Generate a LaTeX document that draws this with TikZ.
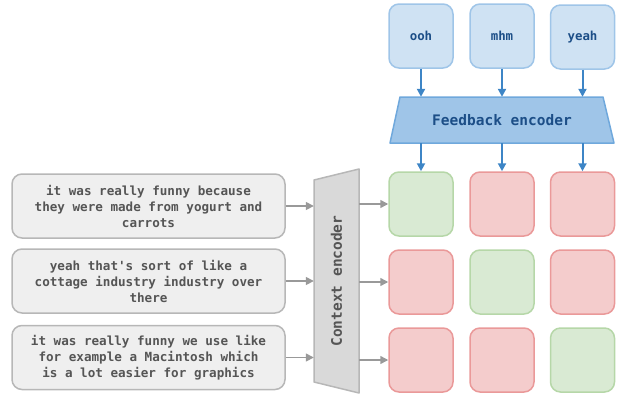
\documentclass[tikz,border=0pt]{standalone}
\usepackage{fontspec}
\setmonofont{DejaVu Sans Mono}
\usepackage{tikz}
\usetikzlibrary{calc,arrows.meta,positioning}

\definecolor{fbfill}{HTML}{CFE2F3}
\definecolor{fbline}{HTML}{9FC5E8}
\definecolor{encfill}{HTML}{9FC5E8}
\definecolor{encline}{HTML}{6FA8DC}
\definecolor{bluetext}{HTML}{1C4E87}
\definecolor{bluearrow}{HTML}{3D85C6}
\definecolor{okfill}{HTML}{D9EAD3}
\definecolor{okline}{HTML}{B6D7A8}
\definecolor{nofill}{HTML}{F4CCCC}
\definecolor{noline}{HTML}{EA9999}
\definecolor{ctxfill}{HTML}{D9D9D9}
\definecolor{ctxline}{HTML}{B7B7B7}
\definecolor{uttfill}{HTML}{EFEFEF}
\definecolor{utttext}{HTML}{555555}
\definecolor{grayarrow}{HTML}{999999}

\tikzset{
  utt/.style={draw=ctxline,fill=uttfill,line width=1.5pt,rounded corners=10pt,
    minimum width=273pt,minimum height=64pt,inner sep=0pt,align=center,text=utttext,
    font=\fontsize{12.6}{16}\selectfont\ttfamily\bfseries},
  fb/.style={draw=fbline,fill=fbfill,line width=1.5pt,rounded corners=10pt,
    minimum width=64pt,minimum height=64pt,inner sep=0pt,text=bluetext,
    font=\fontsize{12.4}{15}\selectfont\ttfamily\bfseries},
  cell/.style={line width=1.5pt,rounded corners=10pt,minimum width=64pt,minimum height=64pt,inner sep=0pt},
  ok/.style={cell,draw=okline,fill=okfill},
  no/.style={cell,draw=noline,fill=nofill},
  enclabel/.style={inner sep=0pt,font=\fontsize{14.5}{16}\selectfont\ttfamily\bfseries},
  garrow/.style={draw=grayarrow,line width=1.5pt,-{Triangle[length=8pt,width=8pt]}},
  barrow/.style={draw=bluearrow,line width=2pt,-{Triangle[length=8pt,width=8pt]}}
}

\begin{document}
\begin{tikzpicture}[x=1pt,y=-1pt]
        \useasboundingbox (0,0) rectangle (623,394);

        % feedback tokens
        \node[fb] (ooh) at (421,36) {ooh};
        \node[fb] (mhm) at (502,36) {mhm};
        \node[fb] (yeah) at (582.5,37) {yeah};

        \draw[encline,fill=encfill,line width=1.5pt,line join=round] (390,143) -- (400,97) -- (603,97) -- (614,143) -- cycle;
        \node[enclabel,text=bluetext,minimum width=224pt,minimum height=46pt] (fenc) at (502,120) {Feedback encoder};

        % context utterances
        \node[utt] (u1) at (148.5,206) {it was really funny because\\they were made from yogurt and\\carrots};
        \node[utt] (u2) at (148.5,281) {yeah that's sort of like a\\cottage industry industry over\\there};
        \node[utt] (u3) at (148.5,357.5) {it was really funny we use like\\for example a Macintosh which\\is a lot easier for graphics};

        \draw[ctxline,fill=ctxfill,line width=1.5pt,line join=round] (314,180) -- (359,169) -- (359,393) -- (314,382) -- cycle;
        \node[enclabel,text=utttext,rotate=90,minimum width=224pt,minimum height=45pt] (cenc) at (336.5,281) {Context encoder};

        % score grid
        \foreach \r/\y in {1/204,2/282,3/360} {
          \foreach \c/\x in {1/421,2/502,3/582.5} {
            \ifnum\r=\c
              \node[ok] (c\r\c) at (\x,\y) {};
            \else
              \node[no] (c\r\c) at (\x,\y) {};
            \fi
          }
        }

        \foreach \t/\c in {ooh/1,mhm/2,yeah/3} {
          \draw[barrow] (\t.south) -- (\t.south |- fenc.north);
          \draw[barrow] (\t |- fenc.south) -- (c1\c.north);
        }
        \foreach \i in {1,2,3} {
          \draw[garrow] (u\i.east) -- (u\i.east -| cenc.north);
          \draw[garrow] (cenc.south |- c\i1.west) -- (c\i1.west);
        }
      \end{tikzpicture}
\end{document}
